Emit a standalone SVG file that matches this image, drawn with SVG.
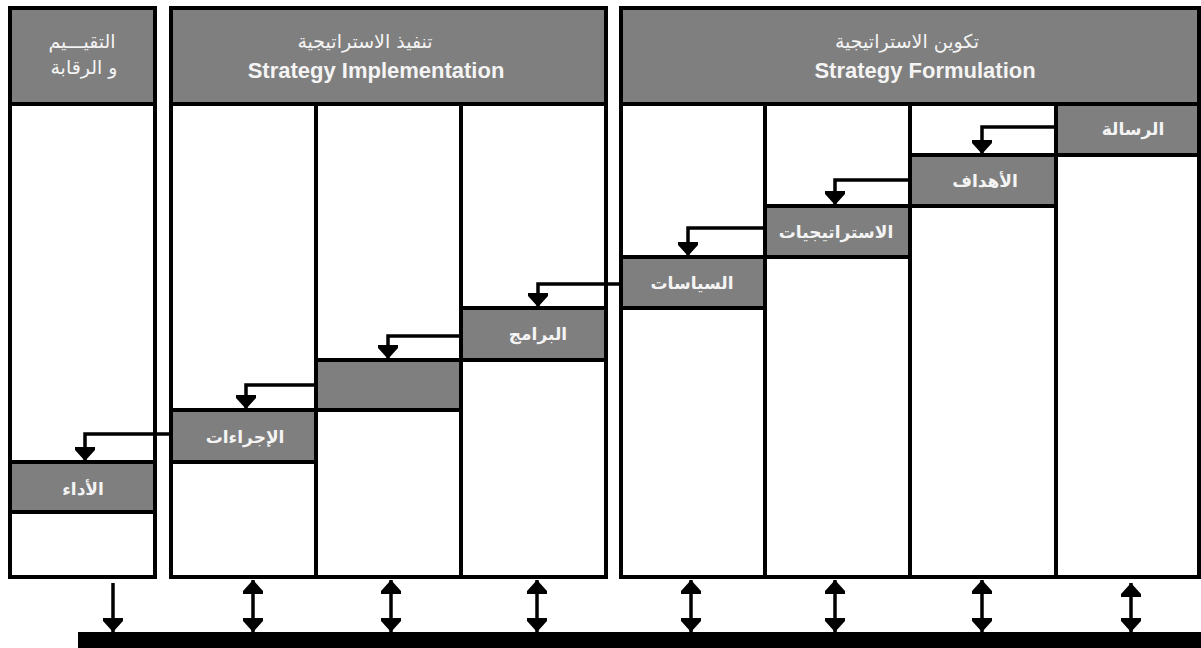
<svg xmlns="http://www.w3.org/2000/svg" width="1201" height="648" viewBox="0 0 1201 648">
<style>
.panel{fill:#ffffff;stroke:#000;stroke-width:4}
.hdr{fill:#7f7f7f;stroke:#000;stroke-width:4}
.col{stroke:#000;stroke-width:4}
.box{fill:#7f7f7f;stroke:#000;stroke-width:4}
.ar{font-family:"DejaVu Sans","Noto Sans",sans-serif;font-size:19px;fill:#f4f4f4;text-anchor:middle}
.lbl{font-family:"DejaVu Sans","Noto Sans",sans-serif;font-size:17px;font-weight:bold;fill:#f4f4f4;text-anchor:middle}
.en{font-family:"Liberation Sans",Arial,sans-serif;font-size:22px;font-weight:bold;fill:#f4f4f4;text-anchor:middle}
.conn{fill:none;stroke:#000;stroke-width:3.5}
</style>
<defs>
<marker id="ah" markerUnits="userSpaceOnUse" markerWidth="17" markerHeight="22" viewBox="-16 -11 17 22" refX="0" refY="0" orient="auto-start-reverse">
<path d="M0,0 L-11,-10 L-14,-10 L-14,10 L-11,10 Z" fill="#000"/>
</marker>
</defs>

<g id="panel-evaluation">
<rect class="panel" x="10" y="8" width="145" height="569"/>
<rect class="hdr" x="10" y="8" width="145" height="96"/>
<text class="ar" x="82" y="48">التقيـــيم</text>
<text class="ar" x="84" y="74">و الرقابة</text>
</g>

<g id="panel-implementation">
<rect class="panel" x="171" y="8" width="435" height="569"/>
<rect class="hdr" x="171" y="8" width="435" height="96"/>
<line class="col" x1="316" y1="104" x2="316" y2="577"/>
<line class="col" x1="461" y1="104" x2="461" y2="577"/>
<text class="ar" x="365" y="48">تنفيذ الاستراتيجية</text>
<text class="en" x="376" y="78">Strategy Implementation</text>
</g>

<g id="panel-formulation">
<rect class="panel" x="621" y="8" width="578" height="569"/>
<rect class="hdr" x="621" y="8" width="578" height="96"/>
<line class="col" x1="765" y1="104" x2="765" y2="577"/>
<line class="col" x1="910" y1="104" x2="910" y2="577"/>
<line class="col" x1="1056" y1="104" x2="1056" y2="577"/>
<text class="ar" x="907" y="48">تكوين الاستراتيجية</text>
<text class="en" x="925" y="78">Strategy Formulation</text>
</g>

<g id="node-mission">
<rect class="box" x="1056" y="104" width="143" height="51"/>
<text class="lbl" x="1133" y="135">الرسالة</text>
</g>
<g id="node-objectives">
<rect class="box" x="910" y="155" width="146" height="51"/>
<text class="lbl" x="985" y="187">الأهداف</text>
</g>
<g id="node-strategies">
<rect class="box" x="765" y="206" width="145" height="51"/>
<text class="lbl" x="836" y="238">الاستراتيجيات</text>
</g>
<g id="node-policies">
<rect class="box" x="621" y="257" width="144" height="51"/>
<text class="lbl" x="692" y="289">السياسات</text>
</g>
<g id="node-programs">
<rect class="box" x="461" y="308" width="145" height="52"/>
<text class="lbl" x="538" y="340">البرامج</text>
</g>
<g id="node-budget">
<rect class="box" x="316" y="360" width="145" height="50"/>
</g>
<g id="node-procedures">
<rect class="box" x="171" y="410" width="145" height="52"/>
<text class="lbl" x="245" y="443">الإجراءات</text>
</g>
<g id="node-performance">
<rect class="box" x="10" y="462" width="145" height="50"/>
<text class="lbl" x="83" y="495">الأداء</text>
</g>

<g id="connectors">
<polyline class="conn" points="1056,127 982,127 982,154" marker-end="url(#ah)"/>
<polyline class="conn" points="910,180 835,180 835,205" marker-end="url(#ah)"/>
<polyline class="conn" points="765,228 688,228 688,256" marker-end="url(#ah)"/>
<polyline class="conn" points="621,284 538,284 538,307" marker-end="url(#ah)"/>
<polyline class="conn" points="461,336 388,336 388,359" marker-end="url(#ah)"/>
<polyline class="conn" points="316,385 246,385 246,409" marker-end="url(#ah)"/>
<polyline class="conn" points="171,434 85,434 85,461" marker-end="url(#ah)"/>

<line class="conn" x1="113" y1="583" x2="113" y2="632" marker-end="url(#ah)"/>
<line class="conn" x1="253" y1="580" x2="253" y2="632" marker-start="url(#ah)" marker-end="url(#ah)"/>
<line class="conn" x1="391" y1="580" x2="391" y2="632" marker-start="url(#ah)" marker-end="url(#ah)"/>
<line class="conn" x1="537" y1="580" x2="537" y2="632" marker-start="url(#ah)" marker-end="url(#ah)"/>
<line class="conn" x1="691" y1="580" x2="691" y2="632" marker-start="url(#ah)" marker-end="url(#ah)"/>
<line class="conn" x1="835" y1="580" x2="835" y2="632" marker-start="url(#ah)" marker-end="url(#ah)"/>
<line class="conn" x1="982" y1="580" x2="982" y2="632" marker-start="url(#ah)" marker-end="url(#ah)"/>
<line class="conn" x1="1131" y1="583" x2="1131" y2="632" marker-start="url(#ah)" marker-end="url(#ah)"/>
</g>

<rect id="base-bar" x="78" y="632" width="1123" height="16" fill="#000"/>
</svg>
